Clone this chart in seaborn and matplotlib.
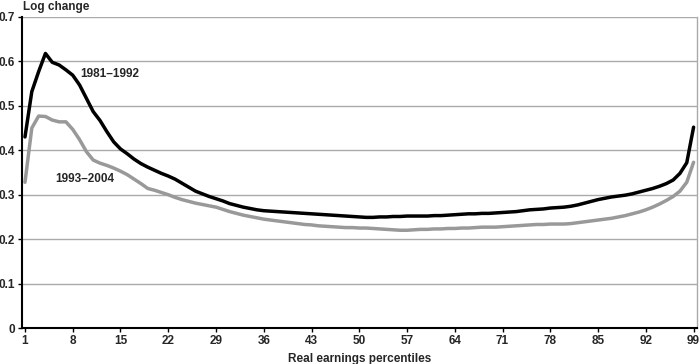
import numpy as np
import pandas as pd
import seaborn as sns
import matplotlib.pyplot as plt

# Data
percentiles = list(range(1, 100))

change_1981_1992 = [
    0.430, 0.532, 0.577, 0.618, 0.598, 0.592, 0.581, 0.569, 0.547, 0.517,
    0.487, 0.467, 0.442, 0.419, 0.403, 0.392, 0.380, 0.370, 0.362, 0.355,
    0.348, 0.342, 0.335, 0.326, 0.317, 0.308, 0.302, 0.296, 0.291, 0.286,
    0.280, 0.276, 0.272, 0.269, 0.266, 0.264, 0.263, 0.262, 0.261, 0.260,
    0.259, 0.258, 0.257, 0.256, 0.255, 0.254, 0.253, 0.252, 0.251, 0.250,
    0.249, 0.249, 0.250, 0.250, 0.251, 0.251, 0.252, 0.252, 0.252, 0.252,
    0.253, 0.253, 0.254, 0.255, 0.256, 0.257, 0.257, 0.258, 0.258, 0.259,
    0.260, 0.261, 0.262, 0.264, 0.266, 0.267, 0.268, 0.270, 0.271, 0.272,
    0.274, 0.277, 0.281, 0.285, 0.289, 0.292, 0.295, 0.297, 0.299, 0.302,
    0.306, 0.310, 0.314, 0.319, 0.325, 0.333, 0.348, 0.372, 0.452,
]

change_1993_2004 = [
    0.328, 0.450, 0.477, 0.476, 0.468, 0.464, 0.464, 0.447, 0.424, 0.397,
    0.378, 0.371, 0.366, 0.360, 0.353, 0.345, 0.335, 0.325, 0.314, 0.310,
    0.305, 0.300, 0.294, 0.289, 0.285, 0.281, 0.278, 0.275, 0.272, 0.267,
    0.262, 0.258, 0.254, 0.251, 0.248, 0.245, 0.243, 0.241, 0.239, 0.237,
    0.235, 0.233, 0.232, 0.230, 0.229, 0.228, 0.227, 0.226, 0.226, 0.225,
    0.225, 0.224, 0.223, 0.222, 0.221, 0.220, 0.220, 0.221, 0.222, 0.222,
    0.223, 0.223, 0.224, 0.224, 0.225, 0.225, 0.226, 0.227, 0.227, 0.227,
    0.228, 0.229, 0.230, 0.231, 0.232, 0.233, 0.233, 0.234, 0.234, 0.234,
    0.235, 0.237, 0.239, 0.241, 0.243, 0.245, 0.247, 0.250, 0.253, 0.257,
    0.261, 0.266, 0.272, 0.279, 0.287, 0.296, 0.308, 0.328, 0.373,
]

x_ticks = list(range(1, 100, 7))
y_ticks = [0, 0.1, 0.2, 0.3, 0.4, 0.5, 0.6, 0.7]
y_tick_labels = ["0", "0.1", "0.2", "0.3", "0.4", "0.5", "0.6", "0.7"]

df = pd.DataFrame({
    "percentile": percentiles * 2,
    "change": change_1981_1992 + change_1993_2004,
    "period": ["1981–1992"] * 99 + ["1993–2004"] * 99,
})

sns.set_style("white")
plt.rcParams["font.family"] = ["Liberation Sans", "DejaVu Sans"]

fig = plt.figure(figsize=(7, 3.64), dpi=100)
ax = fig.add_axes([0.0314, 0.0989, 0.9643, 0.8544])

ax.yaxis.grid(True, color="#aaaaaa", linewidth=1)
ax.set_axisbelow(True)

sns.lineplot(data=df, x="percentile", y="change", hue="period",
             palette={"1981–1992": "black", "1993–2004": "#999999"},
             linewidth=2.5, legend=False, ax=ax)

ax.set_xlim(0.56, 99.5)
ax.set_ylim(0, 0.7)
ax.set_xticks(x_ticks)
ax.set_yticks(y_ticks)
ax.set_yticklabels(y_tick_labels)
ax.tick_params(axis="both", labelsize=8.5, length=3, width=1, color="black",
               pad=2, bottom=True, left=True)
for lab in ax.get_xticklabels() + ax.get_yticklabels():
    lab.set_fontweight("bold")

ax.spines["top"].set_visible(False)
ax.spines["right"].set_color("#aaaaaa")
ax.spines["right"].set_linewidth(1)
ax.spines["left"].set_color("black")
ax.spines["left"].set_linewidth(1.5)
ax.spines["bottom"].set_color("black")
ax.spines["bottom"].set_linewidth(1.5)

ax.set_xlabel("Real earnings percentiles", fontsize=8.5, fontweight="bold", labelpad=4)
ax.set_ylabel("")

fig.text(23 / 700, 1 - 7 / 364, "Log change", fontsize=8.5, fontweight="bold",
         ha="left", va="center")
ax.text(13.4, 0.572, "1981–1992", fontsize=8.5, fontweight="bold", ha="center", va="center")
ax.text(9.7, 0.335, "1993–2004", fontsize=8.5, fontweight="bold", ha="center", va="center")

fig.savefig("out.png", dpi=100)
